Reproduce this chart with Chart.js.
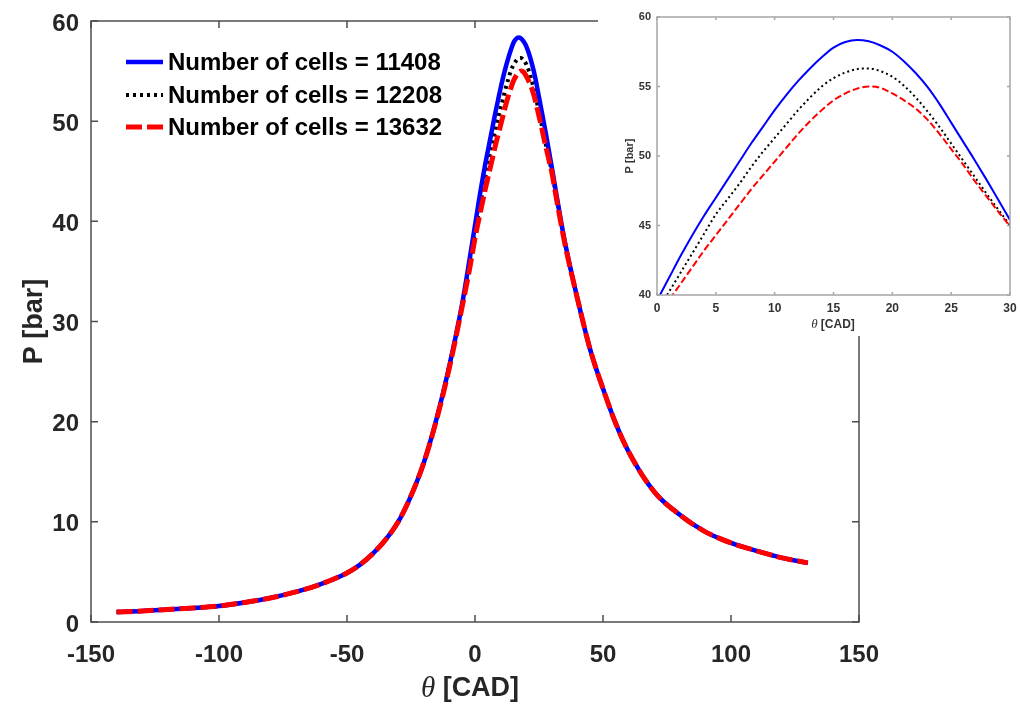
<!DOCTYPE html>
<html>
<head>
<meta charset="utf-8">
<script src="https://cdn.jsdelivr.net/npm/chart.js@4.4.1/dist/chart.umd.min.js"></script>
<style>
  html, body { margin: 0; padding: 0; background: #fff; }
  #wrap { position: relative; width: 1020px; height: 713px; overflow: hidden; }
  #main { position: absolute; left: 0; top: 0; }
  #insetBox { position: absolute; left: 598px; top: 0; width: 422px; height: 336px; background: #fff; }
</style>
</head>
<body>
<div id="wrap">
  <canvas id="main" width="1020" height="713"></canvas>
  <div id="insetBox"><canvas id="inset" width="422" height="336"></canvas></div>
</div>
<script>
// ---- data ----
const theta = [-140,-130,-120,-110,-100,-90,-80,-70,-60,-50,
  -45,-40,-35,-30,-25,-20,-15,-10,-5,-2,
  0,1,2,3,4,5,6,7,8,9,10,11,12,13,14,15,16,17,18,19,20,21,22,23,24,25,26,27,28,29,30,
  32,35,40,45,50,55,60,70,80,90,100,110,120,130];

const cells11408 = [1.0,1.1,1.25,1.4,1.6,1.95,2.4,3.0,3.8,4.9,
  5.7,6.8,8.2,10.0,12.6,15.9,20.3,25.6,31.8,36.4,
  39.6,41.2,42.8,44.3,45.7,47.0,48.3,49.6,50.9,52.1,53.3,54.4,55.4,56.3,57.1,57.8,58.2,58.35,58.25,57.95,57.5,56.8,55.95,54.95,53.75,52.4,51.05,49.7,48.3,46.85,45.4,
  42.4,38.1,32.3,27.2,23.3,19.8,17.0,13.0,10.7,9.0,7.9,7.1,6.4,5.9];

const cells12208 = [1.0,1.1,1.25,1.4,1.6,1.95,2.4,3.0,3.8,4.9,
  5.7,6.8,8.2,10.0,12.6,15.9,20.3,25.6,31.6,36.0,
  38.9,40.2,41.6,43.0,44.4,45.8,46.9,48.0,49.2,50.3,51.3,52.3,53.3,54.2,55.0,55.6,56.0,56.25,56.3,56.1,55.7,55.05,54.2,53.2,52.1,50.9,49.7,48.5,47.3,46.15,45.0,
  42.2,38.0,32.3,27.2,23.3,19.8,17.0,13.0,10.7,9.0,7.9,7.1,6.4,5.9];

const cells13632 = [1.0,1.1,1.25,1.4,1.6,1.95,2.4,3.0,3.8,4.9,
  5.7,6.8,8.2,10.0,12.6,15.9,20.2,25.4,31.5,35.4,
  38.3,39.6,40.8,42.0,43.2,44.3,45.4,46.5,47.6,48.6,49.6,50.6,51.6,52.5,53.3,54.0,54.5,54.85,55.0,54.9,54.5,54.0,53.4,52.6,51.6,50.5,49.4,48.2,47.1,46.0,44.9,
  42.0,37.9,32.3,27.2,23.3,19.8,17.0,13.0,10.7,9.0,7.9,7.1,6.4,5.9];

const seriesLabels = ['Number of cells = 11408', 'Number of cells = 12208', 'Number of cells = 13632'];
const xTicksMain = [-150, -100, -50, 0, 50, 100, 150];
const yTicksMain = [0, 10, 20, 30, 40, 50, 60];
const xTicksInset = [0, 5, 10, 15, 20, 25, 30];
const yTicksInset = [40, 45, 50, 55, 60];

const pts = arr => theta.map((t, i) => ({ x: t, y: arr[i] }));

const SANS = '"Liberation Sans", Arial, Helvetica, sans-serif';
const TXT = '#262626';

// frame + inward ticks (MATLAB-like box)
function boxPlugin(id, color, lw, tickLen, xt, yt) {
  return {
    id: id,
    afterDatasetsDraw(chart) {
      const { ctx, chartArea: a, scales } = chart;
      ctx.save();
      ctx.strokeStyle = color;
      ctx.lineWidth = lw;
      ctx.beginPath();
      xt.forEach(v => {
        const px = scales.x.getPixelForValue(v);
        ctx.moveTo(px, a.bottom); ctx.lineTo(px, a.bottom - tickLen);
        ctx.moveTo(px, a.top); ctx.lineTo(px, a.top + tickLen);
      });
      yt.forEach(v => {
        const py = scales.y.getPixelForValue(v);
        ctx.moveTo(a.left, py); ctx.lineTo(a.left + tickLen, py);
        ctx.moveTo(a.right, py); ctx.lineTo(a.right - tickLen, py);
      });
      ctx.stroke();
      ctx.strokeRect(a.left, a.top, a.right - a.left, a.bottom - a.top);
      ctx.restore();
    }
  };
}

function thetaTitle(id, size, cx, cy, color) {
  return {
    id: id,
    afterDraw(chart) {
      const ctx = chart.ctx;
      ctx.save();
      ctx.fillStyle = color;
      ctx.textBaseline = 'middle';
      const f1 = 'italic ' + Math.round(size * 1.08) + 'px "Liberation Serif", "Times New Roman", serif';
      const f2 = 'bold ' + size + 'px ' + SANS;
      ctx.font = f1; const w1 = ctx.measureText('\u03B8').width;
      ctx.font = f2; const w2 = ctx.measureText(' [CAD]').width;
      let x = cx - (w1 + w2) / 2;
      ctx.font = f1; ctx.textAlign = 'left'; ctx.fillText('\u03B8', x, cy);
      ctx.font = f2; ctx.fillText(' [CAD]', x + w1, cy);
      ctx.restore();
    }
  };
}

const legendPlugin = {
  id: 'insideLegend',
  afterDraw(chart) {
    const { ctx, chartArea: a } = chart;
    const rows = [41, 74, 106];
    ctx.save();
    chart.data.datasets.forEach((ds, i) => {
      const y = a.top + rows[i];
      ctx.beginPath();
      ctx.strokeStyle = ds.borderColor;
      ctx.lineWidth = ds.borderWidth;
      ctx.setLineDash(ds.borderDash || []);
      ctx.moveTo(a.left + 35, y); ctx.lineTo(a.left + 72, y);
      ctx.stroke();
      ctx.setLineDash([]);
      ctx.fillStyle = '#000';
      ctx.font = 'bold 24px ' + SANS;
      ctx.textAlign = 'left';
      ctx.textBaseline = 'middle';
      ctx.fillText(ds.label, a.left + 77, y + 1);
    });
    ctx.restore();
  }
};

// ---- main chart ----
new Chart(document.getElementById('main'), {
  type: 'line',
  data: {
    datasets: [
      { label: seriesLabels[0], data: pts(cells11408), borderColor: '#0000ff', borderWidth: 4.5, order: 2 },
      { label: seriesLabels[1], data: pts(cells12208), borderColor: '#000000', borderWidth: 4, borderDash: [3, 4], order: 3 },
      { label: seriesLabels[2], data: pts(cells13632), borderColor: '#ff0000', borderWidth: 5, borderDash: [16, 5], order: 1 }
    ]
  },
  options: {
    responsive: false, animation: false,
    layout: { padding: { left: 0, top: 21, right: 161, bottom: 0 } },
    elements: { point: { radius: 0 }, line: { cubicInterpolationMode: 'monotone' } },
    plugins: { legend: { display: false }, tooltip: { enabled: false } },
    scales: {
      x: {
        type: 'linear', min: -150, max: 150,
        afterBuildTicks: s => { s.ticks = xTicksMain.map(v => ({ value: v })); },
        afterFit: s => { s.height = 91; s.paddingLeft = 0; s.paddingRight = 0; },
        grid: { display: false, drawTicks: false }, border: { display: false },
        ticks: { padding: 19, color: TXT, font: { family: SANS, size: 24, weight: 'bold' } }
      },
      y: {
        type: 'linear', min: 0, max: 60,
        afterBuildTicks: s => { s.ticks = yTicksMain.map(v => ({ value: v })); },
        afterFit: s => { s.width = 91; s.paddingTop = 0; s.paddingBottom = 0; },
        grid: { display: false, drawTicks: false }, border: { display: false },
        title: { display: true, text: 'P [bar]', color: TXT, padding: { top: 18, bottom: 0 }, font: { family: SANS, size: 27, weight: 'bold' } },
        ticks: { padding: 12, labelOffset: 3, color: TXT, font: { family: SANS, size: 24, weight: 'bold' } }
      }
    }
  },
  plugins: [boxPlugin('mainBox', '#4d4d4d', 1.5, 7, xTicksMain, yTicksMain), legendPlugin, thetaTitle('mainTitle', 27, 470, 689, TXT)]
});

// ---- inset chart ----
new Chart(document.getElementById('inset'), {
  type: 'line',
  data: {
    datasets: [
      { label: seriesLabels[0], data: pts(cells11408), borderColor: '#0000ff', borderWidth: 2, order: 2 },
      { label: seriesLabels[1], data: pts(cells12208), borderColor: '#000000', borderWidth: 2, borderDash: [2, 3], order: 3 },
      { label: seriesLabels[2], data: pts(cells13632), borderColor: '#ff0000', borderWidth: 2, borderDash: [7, 3], order: 1 }
    ]
  },
  options: {
    responsive: false, animation: false,
    layout: { padding: { left: 0, top: 17, right: 10, bottom: 0 } },
    elements: { point: { radius: 0 }, line: { cubicInterpolationMode: 'monotone' } },
    plugins: { legend: { display: false }, tooltip: { enabled: false } },
    scales: {
      x: {
        type: 'linear', min: 0, max: 30,
        afterBuildTicks: s => { s.ticks = xTicksInset.map(v => ({ value: v })); },
        afterFit: s => { s.height = 41; s.paddingLeft = 0; s.paddingRight = 0; },
        grid: { display: false, drawTicks: false }, border: { display: false },
        ticks: { padding: 6, color: '#333', font: { family: SANS, size: 12, weight: 'bold' } }
      },
      y: {
        type: 'linear', min: 40, max: 60,
        afterBuildTicks: s => { s.ticks = yTicksInset.map(v => ({ value: v })); },
        afterFit: s => { s.width = 59; s.paddingTop = 0; s.paddingBottom = 0; },
        grid: { display: false, drawTicks: false }, border: { display: false },
        title: { display: true, text: 'P [bar]', color: '#333', padding: { top: 25, bottom: 0 }, font: { family: SANS, size: 11, weight: 'bold' } },
        ticks: { padding: 6, color: '#333', font: { family: SANS, size: 11, weight: 'bold' } }
      }
    }
  },
  plugins: [boxPlugin('insetBoxFrame', '#a6a6a6', 1.5, 3, xTicksInset, yTicksInset), thetaTitle('insetTitle', 12, 235, 325, '#333')]
});
</script>
</body>
</html>
